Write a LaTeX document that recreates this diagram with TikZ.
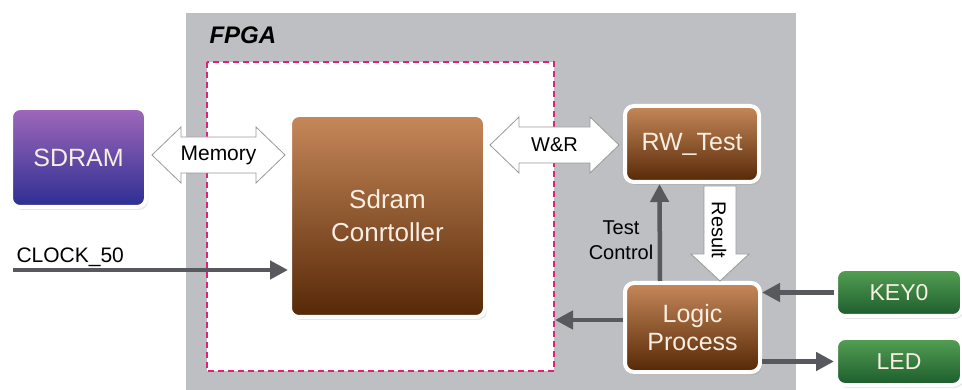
\documentclass[tikz,border=0pt]{standalone}
\usepackage{fontspec}
\setmainfont{Liberation Sans}
\usetikzlibrary{arrows.meta,calc,shadows}

\definecolor{fpgagray}{RGB}{190,191,195}
\definecolor{dashpink}{RGB}{222,34,122}
\definecolor{wiregray}{RGB}{88,89,94}
\definecolor{browntop}{RGB}{198,136,90}
\definecolor{brownbot}{RGB}{86,40,6}
\definecolor{purptop}{RGB}{160,104,186}
\definecolor{purpbot}{RGB}{44,46,146}
\definecolor{greentop}{RGB}{84,160,84}
\definecolor{greenbot}{RGB}{28,92,44}
\definecolor{cream}{RGB}{248,238,226}

% hollow two-headed bus arrow between two points on one level
\newcommand\busarrow[2]{%
  \draw[hollow] let \p1=(#1), \p2=(#2) in
    (\x1,\y1) -- ++(29pt,28pt) -- ++(0,-10pt) -- (\x2-29pt,\y1+18pt)
    -- ++(0,10pt) -- (\x2,\y1) -- ++(-29pt,-28pt) -- ++(0,10pt)
    -- (\x1+29pt,\y1-18pt) -- ++(0,-10pt) -- cycle;}

\begin{document}
\begin{tikzpicture}[
  x=1pt, y=-1pt,
  >={Triangle[length=18pt,width=18pt]},
  block/.style={rounded corners=9pt, draw=white, line width=4pt, text=cream,
    align=center, font=\fontsize{25}{28}\selectfont,
    drop shadow={opacity=0.18, shadow xshift=2pt, shadow yshift=-3pt}},
  brown/.style={block, top color=browntop, bottom color=brownbot},
  purple/.style={block, top color=purptop, bottom color=purpbot},
  green/.style={block, top color=greentop, bottom color=greenbot,
    font=\fontsize{23}{26}\selectfont},
  wire/.style={->, draw=wiregray, line width=4.5pt},
  hollow/.style={draw=gray!80, line width=0.8pt, fill=white, line join=miter},
  lab/.style={text=black, font=\fontsize{20}{25}\selectfont, align=center}
]
\path[use as bounding box] (0,0) rectangle (962,390);

% FPGA area
\fill[fpgagray] (186,13) rectangle (796,392);
\node[anchor=base west, font=\fontsize{24}{24}\selectfont\bfseries\itshape] (fpga) at (206,44) {FPGA};
\draw[dashpink, line width=1.5pt, dash pattern=on 6pt off 4pt, fill=white] (207,62) rectangle (554,371);

% blocks
\node[purple, minimum width=135pt, minimum height=99pt] (sdram) at (78.5,157.5) {SDRAM};
\node[brown, minimum width=195pt, minimum height=202pt, font=\fontsize{26}{33}\selectfont] (ctrl) at (387.5,216) {Sdram\\Conrtoller};
\node[brown, minimum width=134pt, minimum height=76pt] (rw) at (692,144) {RW\_Test};
\node[brown, minimum width=135pt, minimum height=89pt] (logic) at (692.5,327.5) {Logic\\Process};
\node[green, minimum width=126pt, minimum height=47pt] (key) at (899,292.5) {KEY0};
\node[green, minimum width=126pt, minimum height=47pt] (led) at (899,361.5) {LED};

% bus arrows
\coordinate (memL) at ([xshift=4pt,yshift=2.5pt]sdram.east);
\coordinate (memR) at ([xshift=-3pt]memL -| ctrl.west);
\busarrow{memL}{memR}
\node[lab, font=\fontsize{21}{25}\selectfont] (memlbl) at ($(memL)!0.5!(memR)$) {Memory};

\coordinate (wrL) at ([xshift=3pt,yshift=-1pt]rw.west -| ctrl.east);
\coordinate (wrR) at ([xshift=-4pt]wrL -| rw.west);
\busarrow{wrL}{wrR}
\node[lab] (wrlbl) at ($(wrL)!0.5!(wrR)$) {W\&R};

\coordinate (resT) at (720,186);
\coordinate (resB) at (resT |- logic.north);
\draw[hollow] let \p1=(resT), \p2=(resB) in
  (\x1-16pt,\y1) -- (\x1+16pt,\y1) -- (\x1+16pt,\y2+27pt) -- (\x1+29pt,\y2+27pt)
  -- (\x1,\y2) -- (\x1-29pt,\y2+27pt) -- (\x1-16pt,\y2+27pt) -- cycle;
\node[lab, rotate=-90] (reslbl) at (719,230) {Result};

% signals
\coordinate (clk) at (13,270);
\node[lab, anchor=base west, font=\fontsize{21}{25}\selectfont] (clklbl) at (13,263) {CLOCK\_50};
\draw[wire] (clk) -- (clk -| ctrl.west);
\draw[wire] ([xshift=-32.5pt]logic.north) -- ([xshift=-32.5pt]rw.south);
\node[lab] (tclbl) at (621,240) {Test\\Control};
\coordinate (back) at (555,320);
\draw[wire] (back -| logic.west) -- (back);
\draw[wire] (key.west) -- (key.west -| logic.east);
\draw[wire] (led.west -| logic.east) -- (led.west);
\end{tikzpicture}
\end{document}
